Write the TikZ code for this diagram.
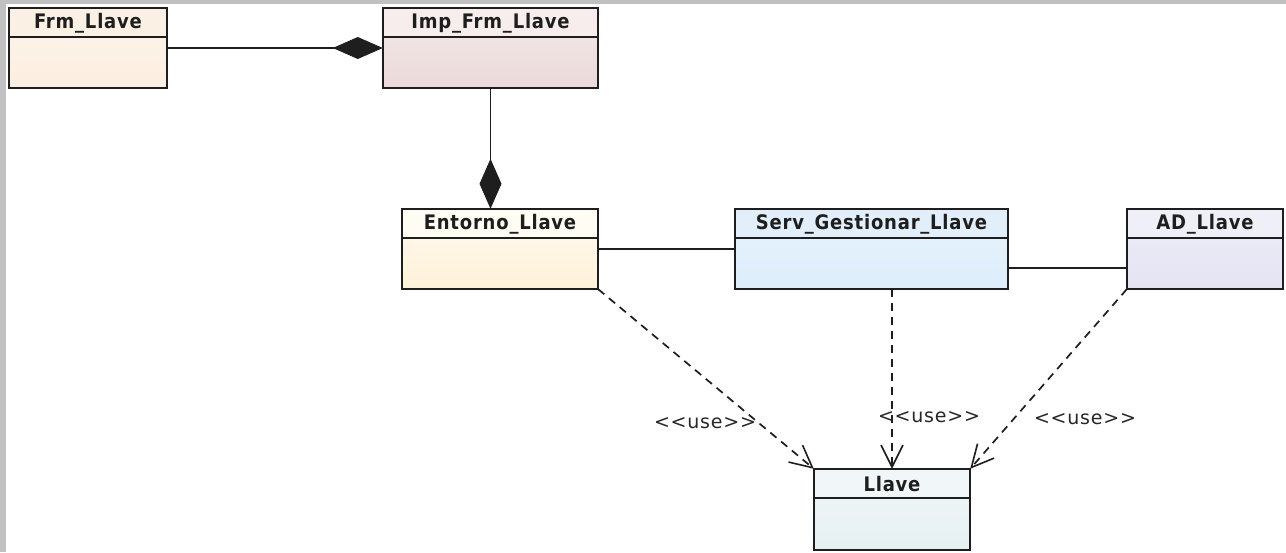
\documentclass[tikz,border=0pt]{standalone}
\usepackage{fontspec}
\usetikzlibrary{arrows.meta,fit}
\newfontfamily\umltitle{DejaVu Sans Condensed}[LetterSpace=4]
\newfontfamily\umllabel{DejaVu Sans}[LetterSpace=4]

\definecolor{frame}{HTML}{C0C0C0}
\definecolor{edge}{HTML}{1E1E1E}
\definecolor{frmH}{HTML}{FBF0E4}\definecolor{frmT}{HTML}{FDF5EC}\definecolor{frmB}{HTML}{FCEEE0}
\definecolor{impH}{HTML}{F7EDED}\definecolor{impT}{HTML}{F4EAEA}\definecolor{impB}{HTML}{EBD9D9}
\definecolor{entH}{HTML}{FEFCF3}\definecolor{entT}{HTML}{FFFBF0}\definecolor{entB}{HTML}{FEF1D9}
\definecolor{srvH}{HTML}{E2EEF9}\definecolor{srvT}{HTML}{E9F4FC}\definecolor{srvB}{HTML}{DCEDFA}
\definecolor{adH}{HTML}{EFEFF8}\definecolor{adT}{HTML}{EEEEF8}\definecolor{adB}{HTML}{E3E3F3}
\definecolor{llvH}{HTML}{F1F6F8}\definecolor{llvT}{HTML}{F0F6F8}\definecolor{llvB}{HTML}{E6F0F3}

\tikzset{
  classbox/.style={draw=edge, line width=1.8pt, inner sep=0pt},
  classtitle/.style={font=\umltitle\bfseries\fontsize{20}{22}\selectfont, text=edge, inner sep=0pt},
  assoc/.style={draw=edge, line width=1.7pt},
  compose/.style={assoc, -{Diamond[length=50pt,width=22pt]}},
  usedep/.style={draw=edge, line width=1.7pt, dash pattern=on 8pt off 6pt,
    -{Straight Barb[length=22pt,width=22pt,line width=1.6pt]}},
  uselabel/.style={font=\umllabel\fontsize{19}{21}\selectfont, text=black!85, inner sep=0pt},
}

% class box: name, corners, title, header colour, body top / bottom colours
\newcommand\umlclass[7]{%
  \node[fit={#2 #3}, inner sep=0pt] (#1) {};
  \shade[top color=#6, bottom color=#7] (#1.north west) rectangle (#1.south east);
  \fill[#5] (#1.north west) rectangle ([yshift=-29pt]#1.north east);
  \draw[edge, line width=1.6pt] ([yshift=-29pt]#1.north west) -- ([yshift=-29pt]#1.north east);
  \draw[classbox] (#1.north west) rectangle (#1.south east);
  \node[classtitle] (#1-title) at ([yshift=-15pt]#1.north) {#4};
}

\begin{document}
\begin{tikzpicture}[x=1pt, y=-1pt]
  \useasboundingbox (0,0) rectangle (1286,552);
  \fill[white] (0,0) rectangle (1286,552);
  % window frame strips
  \fill[frame] (0,0) rectangle (6,552);
  \fill[frame] (0,0) rectangle (1286,4);

  \umlclass{frm}{(9,8)}{(167,88)}{Frm\_Llave}{frmH}{frmT}{frmB}
  \umlclass{imp}{(383,8)}{(598,88)}{Imp\_Frm\_Llave}{impH}{impT}{impB}
  \umlclass{ent}{(402,209)}{(598,289)}{Entorno\_Llave}{entH}{entT}{entB}
  \umlclass{serv}{(735,209)}{(1008,289)}{Serv\_Gestionar\_Llave}{srvH}{srvT}{srvB}
  \umlclass{ad}{(1127,209)}{(1283,289)}{AD\_Llave}{adH}{adT}{adB}
  \umlclass{llave}{(814,469)}{(970,550)}{Llave}{llvH}{llvT}{llvB}

  % composition and association links
  \draw[compose] (frm.east) -- (imp.west);
  \draw[compose] (imp.south) -- (imp.south |- ent.north);
  \draw[assoc] (ent.east) -- (serv.west);
  \draw[assoc] ([yshift=-19pt]serv.east) -- ([yshift=-19pt]ad.west);

  % use dependencies
  \draw[usedep] (ent.south east) -- (llave.north west);
  \draw[usedep] (serv.south -| llave.north) -- (llave.north);
  \draw[usedep] (ad.south west) -- (llave.north east);

  \node[uselabel] (use1) at (705,423) {<{}<use>{}>};
  \node[uselabel] (use2) at (929,417) {<{}<use>{}>};
  \node[uselabel] (use3) at (1085,419) {<{}<use>{}>};
\end{tikzpicture}
\end{document}
